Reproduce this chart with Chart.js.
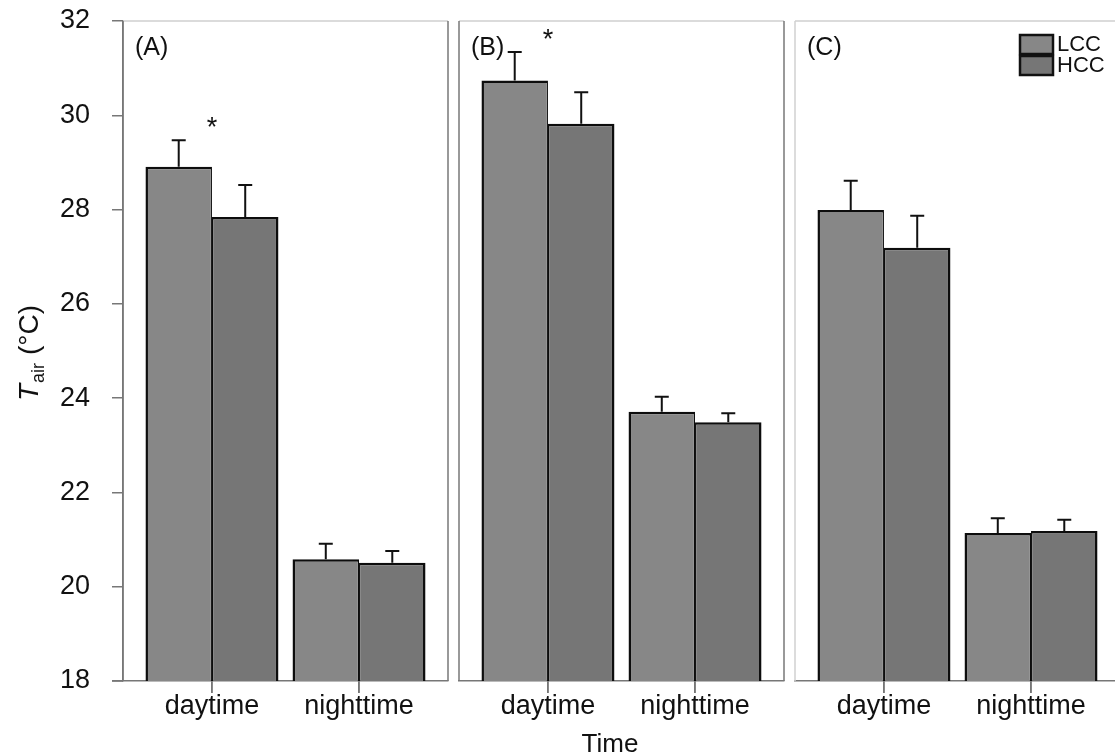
<!DOCTYPE html>
<html>
<head>
<meta charset="utf-8">
<script src="https://cdn.jsdelivr.net/npm/chart.js@4.4.1/dist/chart.umd.min.js"></script>
<style>
    html, body { margin: 0; padding: 0; background: #fff; overflow: hidden; width: 1115px; height: 756px; }
    canvas { position: absolute; top: 0; }
</style>
</head>
<body>
<canvas id="panelA" width="452" height="756" style="left:0px"></canvas>
<canvas id="panelB" width="333" height="756" style="left:455px"></canvas>
<canvas id="panelC" width="333" height="756" style="left:791px"></canvas>
<script>
const categories = ['daytime', 'nighttime'];
const panelNames = ['(A)', '(B)', '(C)'];
const seriesNames = ['LCC', 'HCC'];
// [panel][category]
const lccMean = [[28.91, 20.58], [30.74, 23.71], [27.99, 21.14]];
const lccErr = [[0.56, 0.33], [0.60, 0.32], [0.62, 0.31]];
const hccMean = [[27.84, 20.51], [29.82, 23.49], [27.19, 21.18]];
const hccErr = [[0.68, 0.25], [0.67, 0.19], [0.68, 0.24]];
const starred = [[true, false], [true, false], [false, false]];
const yTicks = [18, 20, 22, 24, 26, 28, 30, 32];

const FONT = "'Liberation Sans', Arial, sans-serif";
const LCC_COLOR = '#878787';
const HCC_COLOR = '#767676';
const AXIS_GRAY = '#777';

// error bars, stars, frame, panel letters and the loose titles
const panelDecor = {
    id: 'panelDecor',
    afterDatasetsDraw(chart, args, opts) {
        const { ctx, chartArea: a } = chart;
        const yScale = chart.scales.y;
        const xScale = chart.scales.x;
        const p = opts.panel;

        ctx.save();
        ctx.strokeStyle = '#111';
        ctx.lineWidth = 2;
        const tops = [];
        chart.data.datasets.forEach((ds, di) => {
            chart.getDatasetMeta(di).data.forEach((bar, i) => {
                const yTop = yScale.getPixelForValue(ds.data[i].y + ds.errors[i]);
                ctx.beginPath();
                ctx.moveTo(bar.x, bar.y);
                ctx.lineTo(bar.x, yTop);
                ctx.moveTo(bar.x - 7, yTop);
                ctx.lineTo(bar.x + 7, yTop);
                ctx.stroke();
                tops[i] = Math.min(tops[i] ?? Infinity, yTop);
            });
        });

        ctx.fillStyle = '#111';
        ctx.font = `27px ${FONT}`;
        ctx.textAlign = 'center';
        ctx.textBaseline = 'alphabetic';
        starred[p].forEach((s, i) => {
            if (s) ctx.fillText('*', xScale.getPixelForValue(i), tops[i] - 17 + 13);
        });

        // frame
        ctx.lineWidth = 1.5;
        ctx.strokeStyle = '#cfcfcf';
        ctx.beginPath();
        ctx.moveTo(a.left, a.top);
        ctx.lineTo(a.right, a.top);
        ctx.stroke();
        ctx.strokeStyle = p === 2 ? '#d0d0d0' : AXIS_GRAY;
        ctx.beginPath();
        ctx.moveTo(a.left, a.top);
        ctx.lineTo(a.left, a.bottom);
        ctx.stroke();
        ctx.strokeStyle = AXIS_GRAY;
        ctx.beginPath();
        ctx.moveTo(a.right, a.top);
        ctx.lineTo(a.right, a.bottom);
        ctx.stroke();
        if (p === 0) {
            ctx.beginPath();
            ctx.moveTo(a.left - 11, a.bottom);
            ctx.lineTo(a.left, a.bottom);
            ctx.stroke();
        }
        // category tick marks below the axis
        categories.forEach((c, i) => {
            const tx = xScale.getPixelForValue(i);
            ctx.beginPath();
            ctx.moveTo(tx, a.bottom);
            ctx.lineTo(tx, a.bottom + 12);
            ctx.stroke();
        });

        ctx.fillStyle = '#111';
        ctx.font = `25px ${FONT}`;
        ctx.textAlign = 'left';
        ctx.textBaseline = 'middle';
        ctx.fillText(panelNames[p], a.left + 12, 48);

        if (p === 0) {
            // y title: T_air (°C)
            ctx.save();
            ctx.translate(38, 401);
            ctx.rotate(-Math.PI / 2);
            ctx.textBaseline = 'alphabetic';
            ctx.font = `italic 28px ${FONT}`;
            ctx.fillText('T', 0, 0);
            let x = ctx.measureText('T').width + 1;
            ctx.font = `18px ${FONT}`;
            ctx.fillText('air', x, 6);
            x += ctx.measureText('air').width;
            ctx.font = `28px ${FONT}`;
            ctx.fillText(' (\u00B0C)', x, 0);
            ctx.restore();
        }

        if (p === 1) {
            ctx.font = `26px ${FONT}`;
            ctx.textAlign = 'center';
            ctx.textBaseline = 'middle';
            ctx.fillText('Time', 610 - 455, 745);
        }

        if (p === 2) {
            // legend
            const colors = [LCC_COLOR, HCC_COLOR];
            ctx.font = `22px ${FONT}`;
            ctx.textAlign = 'left';
            ctx.textBaseline = 'middle';
            ctx.lineWidth = 2.5;
            ctx.strokeStyle = '#111';
            seriesNames.forEach((name, i) => {
                const bx = 1020 - 791, by = 35 + i * 21;
                ctx.fillStyle = colors[i];
                ctx.fillRect(bx, by, 33, 19);
                ctx.strokeRect(bx, by, 33, 19);
                ctx.fillStyle = '#111';
                ctx.fillText(name, bx + 37, by + 10);
            });
        }
        ctx.restore();
    }
};

function buildPanel(canvasId, p) {
    const ctx = document.getElementById(canvasId).getContext('2d');
    const toPoints = vals => vals.map((v, i) => ({ x: i, y: v }));

    return new Chart(ctx, {
        type: 'bar',
        data: {
            datasets: [
                {
                    label: seriesNames[0], data: toPoints(lccMean[p]), errors: lccErr[p],
                    backgroundColor: LCC_COLOR,
                    borderWidth: { top: 2.5, left: 2.5, bottom: 2.5, right: 1.25 }
                },
                {
                    label: seriesNames[1], data: toPoints(hccMean[p]), errors: hccErr[p],
                    backgroundColor: HCC_COLOR,
                    borderWidth: { top: 2.5, left: 1.25, bottom: 2.5, right: 2.5 }
                }
            ]
        },
        options: {
            responsive: false,
            animation: false,
            layout: { padding: { top: 21, left: p === 0 ? 0 : 4, right: 4, bottom: 0 } },
            datasets: {
                bar: {
                    borderColor: '#0d0d0d',
                    borderSkipped: false,
                    categoryPercentage: 0.9044,
                    barPercentage: 1.0
                }
            },
            plugins: {
                legend: { display: false },
                tooltip: { enabled: false },
                panelDecor: { panel: p }
            },
            scales: {
                x: {
                    type: 'linear',
                    offset: false,
                    min: -0.605,
                    max: 1.605,
                    afterBuildTicks: s => { s.ticks = categories.map((c, i) => ({ value: i })); },
                    afterFit: s => { s.height = 75; },
                    ticks: {
                        callback: v => categories[v],
                        font: { size: 27, family: FONT },
                        color: '#111',
                        padding: -3,
                        maxRotation: 0,
                        autoSkip: false
                    },
                    grid: { offset: false, drawOnChartArea: false, tickLength: 12, color: AXIS_GRAY, lineWidth: 1.5 },
                    border: { display: true, color: AXIS_GRAY, width: 1.5 }
                },
                y: {
                    min: 18,
                    max: 32,
                    display: p === 0,
                    afterBuildTicks: s => { s.ticks = yTicks.map(v => ({ value: v })); },
                    afterFit: s => {
                        if (p === 0) s.width = 123;
                        s.paddingTop = 0;
                        s.paddingBottom = 0;
                    },
                    ticks: {
                        font: { size: 27, family: FONT },
                        color: '#111',
                        padding: 22
                    },
                    grid: { drawOnChartArea: false, tickLength: 11, color: AXIS_GRAY, lineWidth: 1.5 },
                    border: { display: true, color: AXIS_GRAY, width: 1.5 }
                }
            }
        },
        plugins: [panelDecor]
    });
}

buildPanel('panelA', 0);
buildPanel('panelB', 1);
buildPanel('panelC', 2);
</script>
</body>
</html>
